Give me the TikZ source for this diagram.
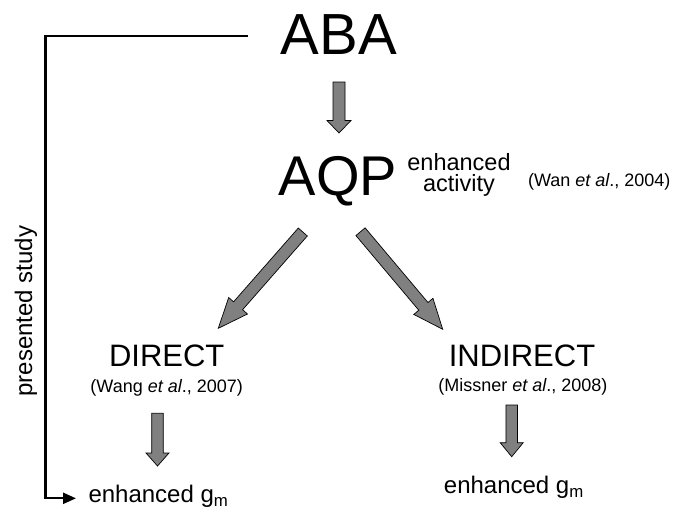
\documentclass[tikz,border=0pt]{standalone}
\usepackage{fontspec}
\setmainfont{Liberation Sans}
\usetikzlibrary{calc,arrows.meta}

\definecolor{arrowgray}{RGB}{128,128,128}

\tikzset{
    txt/.style={inner sep=0pt, anchor=base},
    blockarrow/.style={fill=arrowgray, draw=black, line width=0.7pt, line join=miter},
    studyline/.style={line width=2.2pt, -{Triangle[length=13pt,width=11pt]}},
}

% from, to, shaft half width, head half width, head length
\newcommand{\blockarrow}[5]{%
    \coordinate (ba-base) at ($(#2)!#5!(#1)$);
    \draw[blockarrow] ($(#1)!#3!90:(#2)$) -- ($(ba-base)!#3!90:(#2)$) -- ($(ba-base)!#4!90:(#2)$)
        -- (#2) -- ($(ba-base)!#4!-90:(#2)$) -- ($(ba-base)!#3!-90:(#2)$) -- ($(#1)!#3!-90:(#2)$) -- cycle;
}

\begin{document}
\begin{tikzpicture}[x=1pt, y=-1pt]
    \useasboundingbox (0,0) rectangle (679,515);

    % main labels
    \node[txt, font=\fontsize{58}{60}\selectfont] (aba) at (339,54) {ABA};
    \node[txt, font=\fontsize{56}{58}\selectfont] (aqp) at (338,195) {AQP};
    \node[txt, font=\fontsize{23.5}{25}\selectfont] (enh) at (459,170) {enhanced};
    \node[txt, font=\fontsize{23.5}{25}\selectfont] (act) at (459,191) {activity};
    \node[txt, font=\fontsize{18}{20}\selectfont] (wan) at (599.3,186) {(Wan \textit{et al}., 2004)};
    \node[txt, font=\fontsize{31}{33}\selectfont] (direct) at (166.7,366.7) {DIRECT};
    \node[txt, font=\fontsize{18}{20}\selectfont] (wang) at (166.7,392.7) {(Wang \textit{et al}., 2007)};
    \node[txt, font=\fontsize{31}{33}\selectfont] (indirect) at (522,366) {INDIRECT};
    \node[txt, font=\fontsize{18}{20}\selectfont] (missner) at (522.8,391.7) {(Missner \textit{et al}., 2008)};
    \node[txt, anchor=base west, font=\fontsize{24}{26}\selectfont] (gmleft) at (88.3,502.7) {enhanced g\textsubscript{m}};
    \node[txt, anchor=base west, font=\fontsize{24}{26}\selectfont] (gmright) at (443.7,493.3) {enhanced g\textsubscript{m}};
    \node[inner sep=0pt, rotate=90, font=\fontsize{24}{26}\selectfont] (study) at (26,311) {presented study};

    % arrow ends
    \coordinate (abaout) at (339,82);
    \coordinate (aqpin) at (339,133);
    \coordinate (aqpleft) at (302.8,232);
    \coordinate (directin) at (218.3,328.3);
    \coordinate (aqpright) at (360.5,231.7);
    \coordinate (indirectin) at (442.7,329.3);
    \coordinate (directout) at (157.5,413.3);
    \coordinate (gmleftin) at (157.5,466);
    \coordinate (indirectout) at (511.7,405);
    \coordinate (gmrightin) at (511.7,456.7);

    \blockarrow{abaout}{aqpin}{6pt}{12pt}{12.5pt}
    \blockarrow{aqpleft}{directin}{6pt}{12.5pt}{30pt}
    \blockarrow{aqpright}{indirectin}{6pt}{12.5pt}{30pt}
    \blockarrow{directout}{gmleftin}{5.8pt}{11.5pt}{13pt}
    \blockarrow{indirectout}{gmrightin}{5.8pt}{11.5pt}{14pt}

    % presented study line
    \coordinate (studystart) at (248,35.7);
    \coordinate (studyend) at (76,498.3);
    \draw[studyline] (studystart) -- (45.5,35.7) |- (studyend);
\end{tikzpicture}
\end{document}
